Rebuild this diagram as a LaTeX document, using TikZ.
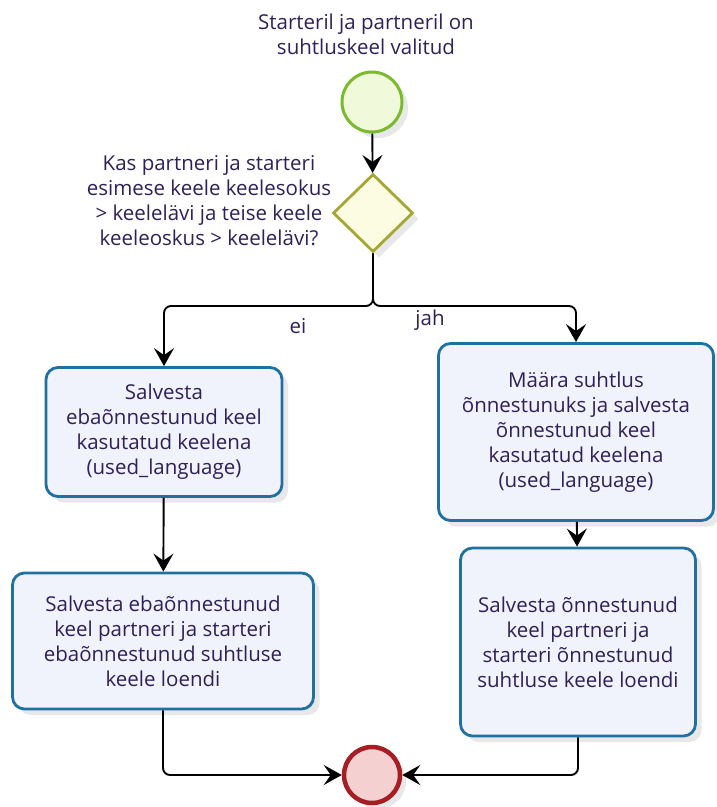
\documentclass[tikz,border=0pt]{standalone}
\usepackage{fontspec}
\setmainfont{Open Sans}
\usetikzlibrary{shapes.geometric,arrows.meta,positioning,shadows}
\definecolor{textpurple}{RGB}{48,32,88}
\definecolor{taskblue}  {RGB}{32,112,160}
\definecolor{taskfill}  {RGB}{240,242,252}
\definecolor{startgreen}{RGB}{122,186,44}
\definecolor{startfill} {RGB}{240,249,218}
\definecolor{gateolive} {RGB}{166,166,52}
\definecolor{gatefill}  {RGB}{252,252,226}
\definecolor{endred}    {RGB}{166,30,36}
\definecolor{endfill}   {RGB}{244,208,208}
\definecolor{shadowgray}{RGB}{150,150,150}

\begin{document}
\begin{tikzpicture}[
      x=1pt, y=-1pt,
      font=\fontsize{20.5}{25}\selectfont, text=textpurple, >=Stealth,
      every node/.style={align=center},
      softshadow/.style={drop shadow={shadow xshift=6pt, shadow yshift=-6pt, fill=shadowgray, opacity=0.22}},
      task/.style={rectangle, rounded corners=12pt, draw=taskblue, fill=taskfill,
        line width=2.8pt, inner sep=4pt, softshadow},
      gate/.style={diamond, draw=gateolive, fill=gatefill, line width=2.8pt,
        minimum width=80pt, minimum height=78pt, inner sep=0pt, softshadow},
      startev/.style={circle, draw=startgreen, fill=startfill, line width=3pt,
        minimum size=60pt, inner sep=0pt, softshadow},
      endev/.style={circle, draw=endred, fill=endfill, line width=4.5pt,
        minimum size=56pt, inner sep=0pt, softshadow},
      arr/.style={line width=1.9pt, color=black,
        -{Stealth[length=18pt, width=20pt, inset=7pt]}},
    ]
    \useasboundingbox (0,0) rectangle (716,807);

    % -- start and gateway ------------------------------------------
    \node[startev] (start) at (372,102) {};
    \node (starttxt) at (366,34) {Starteril ja partneril on\\suhtluskeel valitud};

    \node[gate] (dec) at (373,213) {};
    \node (dectxt) at (209,201) {Kas partneri ja starteri\\esimese keele keelesokus\\> keelelävi ja teise keele\\keeleoskus > keelelävi?};

    \draw[arr] (start) -- (dec);

    % -- branches ---------------------------------------------------
    \node[task, minimum width=236pt, minimum height=129pt] (savefail) at (164,432)
      {Salvesta\\ebaõnnestunud keel\\kasutatud keelena\\(used\_language)};
    \node[task, minimum width=275pt, minimum height=177pt] (saveok) at (576,432)
      {Määra suhtlus\\õnnestunuks ja salvesta\\õnnestunud keel\\kasutatud keelena\\(used\_language)};

    \node[task, minimum width=301pt, minimum height=136pt] (listfail) at (163,641)
      {Salvesta ebaõnnestunud\\keel partneri ja starteri\\ebaõnnestunud suhtluse\\keele loendi};
    \node[task, minimum width=235pt, minimum height=188pt] (listok) at (578,642)
      {Salvesta õnnestunud\\keel partneri ja\\starteri õnnestunud\\suhtluse keele loendi};

    \node[endev] (finish) at (372,775) {};

    \coordinate (split) at (373,306);
    \draw[arr, rounded corners=7pt] (dec.south) -- (split) -| (savefail.north);
    \draw[arr, rounded corners=7pt] (dec.south) -- (split) -| (saveok.north);
    \node (nolbl) at (298,326) {ei};
    \node (yeslbl) at (430,320) {jah};

    \draw[arr] (savefail) -- (listfail);
    \draw[arr] (saveok) -- (listok);

    % -- merge into end ---------------------------------------------
    \draw[arr, rounded corners=7pt] (listfail.south) |- (finish.west);
    \draw[arr, rounded corners=7pt] (listok.south) |- (finish.east);

\end{tikzpicture}
\end{document}
